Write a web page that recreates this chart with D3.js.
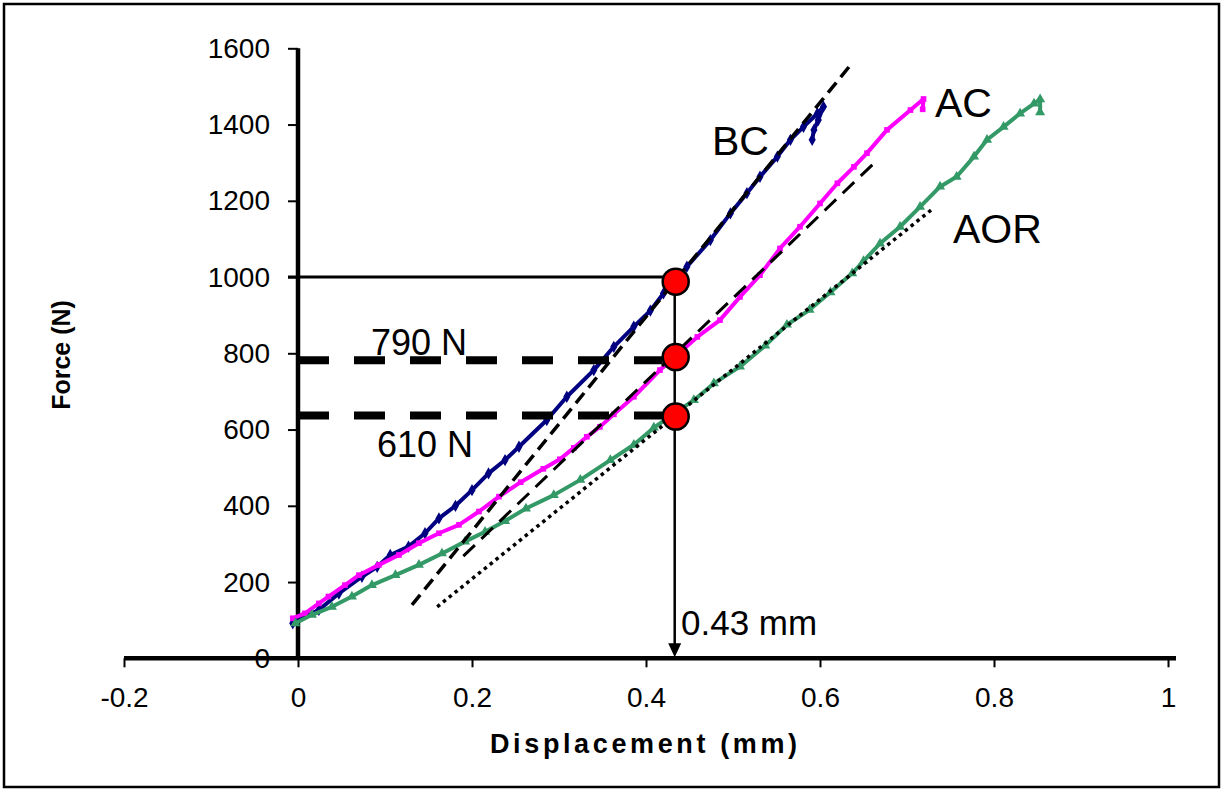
<!DOCTYPE html>
<html><head><meta charset="utf-8">
<script src="https://cdn.jsdelivr.net/npm/d3@7"></script>
<style>body{margin:0;background:#fff} svg text{font-family:"Liberation Sans",Arial,sans-serif;fill:#000}</style>
</head><body><svg id="c" width="1222" height="790"></svg>
<script>
// ---- data ----
const xTickValues = [-0.2, 0, 0.2, 0.4, 0.6, 0.8, 1];
const yTickValues = [0, 200, 400, 600, 800, 1000, 1200, 1400, 1600];

const bcDisp  = [-0.006,0.024,0.047,0.0735,0.091,0.106,0.127,0.146,0.162,0.181,0.200,0.219,0.238,0.254,0.286,0.309,0.340,0.363,0.386,0.405,0.420,0.447,0.474,0.497,0.516,0.531,0.551,0.566,0.581,0.597,0.604,0.598,0.593,0.591];
const bcForce = [92,127,170,214,240,271,293,328,367,400,441,485,520,555,625,686,756,817,870,912,957,1027,1097,1167,1220,1263,1316,1360,1394,1429,1447,1412,1386,1360];

const acDisp  = [-0.006,0.008,0.024,0.035,0.054,0.070,0.093,0.116,0.139,0.162,0.185,0.208,0.231,0.256,0.282,0.301,0.317,0.332,0.347,0.363,0.386,0.416,0.459,0.485,0.508,0.531,0.554,0.577,0.600,0.620,0.639,0.654,0.677,0.704,0.719,0.718];
const acForce = [105,118,144,162,192,218,245,271,302,328,350,385,424,462,497,522,552,581,607,640,686,756,843,887,948,1005,1075,1132,1193,1246,1289,1325,1386,1438,1467,1440];

const aorDisp  = [-0.003,0.016,0.039,0.062,0.085,0.112,0.139,0.1655,0.192,0.215,0.238,0.262,0.294,0.3245,0.359,0.386,0.409,0.455,0.478,0.508,0.537,0.562,0.588,0.612,0.637,0.650,0.669,0.692,0.715,0.738,0.757,0.777,0.792,0.811,0.830,0.846,0.853,0.853];
const aorForce = [92,114,135,162,192,218,245,275,306,332,360,393,428,468,520,560,605,677,721,765,820,875,914,960,1010,1042,1088,1132,1184,1237,1263,1316,1360,1394,1429,1455,1466,1432];

const tangentBCDisp = [0.131, 0.635],  tangentBCForce = [140, 1556];
const tangentACDisp = [0.190, 0.666],  tangentACForce = [268, 1307];
const tangentAORDisp = [0.160, 0.730], tangentAORForce = [135, 1180];

const refForce = 1000;
const levelForces = [782, 637];
const levelLabels = ["790 N", "610 N"];
const markDisp = 0.433;
const markForces = [988, 790, 634];
const seriesNames = ["BC", "AC", "AOR"];

// ---- drawing ----
const svg = d3.select("#c");
const x = d3.scaleLinear().domain([-0.2, 1]).range([124, 1168]);
const y = d3.scaleLinear().domain([0, 1600]).range([658.3, 48.3]);

svg.append("rect").attr("x", 4).attr("y", 4).attr("width", 1215).attr("height", 783)
  .attr("fill", "#fff").attr("stroke", "#000").attr("stroke-width", 2.5);

// y axis
const gy = svg.append("g").attr("transform", `translate(${x(0)},0)`)
  .call(d3.axisLeft(y).tickValues(yTickValues).tickSize(10).tickSizeOuter(0).tickPadding(18).tickFormat(d => String(d)));
gy.select(".domain").remove();
gy.selectAll(".tick line").attr("stroke", "#000").attr("stroke-width", 2);
gy.selectAll(".tick text").attr("font-size", 28).attr("font-family", "Liberation Sans, Arial, sans-serif").attr("fill", "#000");
svg.append("line").attr("x1", x(0)).attr("x2", x(0)).attr("y1", y(1600)).attr("y2", y(0))
  .attr("stroke", "#000").attr("stroke-width", 4.5);

// x axis
const gx = svg.append("g").attr("transform", `translate(0,${y(0)})`)
  .call(d3.axisBottom(x).tickValues(xTickValues).tickSize(9).tickSizeOuter(0).tickPadding(20).tickFormat(d => String(+d.toFixed(1))));
gx.select(".domain").remove();
gx.selectAll(".tick line").attr("stroke", "#000").attr("stroke-width", 2);
gx.selectAll(".tick text").attr("font-size", 28).attr("font-family", "Liberation Sans, Arial, sans-serif").attr("fill", "#000");
svg.append("line").attr("x1", x(-0.2)).attr("x2", x(1) + 8).attr("y1", y(0)).attr("y2", y(0))
  .attr("stroke", "#000").attr("stroke-width", 4.5);

// axis titles
svg.append("text").attr("x", 490).attr("y", 753).attr("font-size", 27).attr("font-weight", "bold")
  .attr("textLength", 307).attr("lengthAdjust", "spacing").text("Displacement (mm)");
svg.append("text").attr("transform", "translate(70,355) rotate(-90)").attr("text-anchor", "middle")
  .attr("font-size", 25).attr("font-weight", "bold").text("Force (N)");

// curves
const line = d3.line().x(d => x(d[0])).y(d => y(d[1]));
const zip = (a, b) => a.map((v, i) => [v, b[i]]);
const series = [
  {name: "BC", pts: zip(bcDisp, bcForce), color: "#000080", sym: d3.symbolDiamond, size: 44},
  {name: "AC", pts: zip(acDisp, acForce), color: "#FF00FF", sym: d3.symbolSquare, size: 32},
  {name: "AOR", pts: zip(aorDisp, aorForce), color: "#339966", sym: d3.symbolTriangle, size: 44}
];
series.forEach(s => {
  svg.append("path").attr("d", line(s.pts)).attr("fill", "none").attr("stroke", s.color)
    .attr("stroke-width", 4).attr("stroke-linejoin", "round");
  svg.append("g").selectAll("path").data(s.pts).join("path")
    .attr("d", d3.symbol().type(s.sym).size(s.size))
    .attr("transform", d => `translate(${x(d[0])},${y(d[1])})`)
    .attr("fill", s.color);
});

// tangent lines
svg.append("path").attr("d", line(zip(tangentBCDisp, tangentBCForce))).attr("stroke", "#000")
  .attr("stroke-width", 3.5).attr("stroke-dasharray", "13,7").attr("fill", "none");
svg.append("path").attr("d", line(zip(tangentACDisp, tangentACForce))).attr("stroke", "#000")
  .attr("stroke-width", 3).attr("stroke-dasharray", "16,9").attr("fill", "none");
svg.append("path").attr("d", line(zip(tangentAORDisp, tangentAORForce))).attr("stroke", "#000")
  .attr("stroke-width", 3.5).attr("stroke-dasharray", "3.5,4").attr("fill", "none");

// reference lines
svg.append("line").attr("x1", x(0) - 10).attr("x2", x(markDisp)).attr("y1", y(refForce)).attr("y2", y(refForce))
  .attr("stroke", "#000").attr("stroke-width", 3);
levelForces.forEach(f => {
  svg.append("line").attr("x1", x(0)).attr("x2", x(markDisp) - 12).attr("y1", y(f)).attr("y2", y(f))
    .attr("stroke", "#000").attr("stroke-width", 8).attr("stroke-dasharray", "31,25");
});
svg.append("line").attr("x1", x(markDisp)).attr("x2", x(markDisp)).attr("y1", y(markForces[0])).attr("y2", y(0) - 14)
  .attr("stroke", "#000").attr("stroke-width", 2.5);
svg.append("path")
  .attr("d", `M${x(markDisp) - 6.5},${y(0) - 15} L${x(markDisp) + 6.5},${y(0) - 15} L${x(markDisp)},${y(0) - 1} Z`)
  .attr("fill", "#000");

// circles
svg.append("g").selectAll("circle").data(markForces).join("circle")
  .attr("cx", x(markDisp) + 1).attr("cy", d => y(d)).attr("r", 13)
  .attr("fill", "#FF0000").attr("stroke", "#000").attr("stroke-width", 2.5);

// labels
svg.append("text").attr("x", 712).attr("y", 155).attr("font-size", 41).text(seriesNames[0]);
svg.append("text").attr("x", 935).attr("y", 117).attr("font-size", 41).text(seriesNames[1]);
svg.append("text").attr("x", 953).attr("y", 243).attr("font-size", 41).text(seriesNames[2]);
svg.append("text").attr("x", 371).attr("y", 355).attr("font-size", 36).text(levelLabels[0]);
svg.append("text").attr("x", 377).attr("y", 457).attr("font-size", 36).text(levelLabels[1]);
svg.append("text").attr("x", 681).attr("y", 635).attr("font-size", 35).text(markDisp.toFixed(2).slice(0,4) + " mm");
</script></body></html>
